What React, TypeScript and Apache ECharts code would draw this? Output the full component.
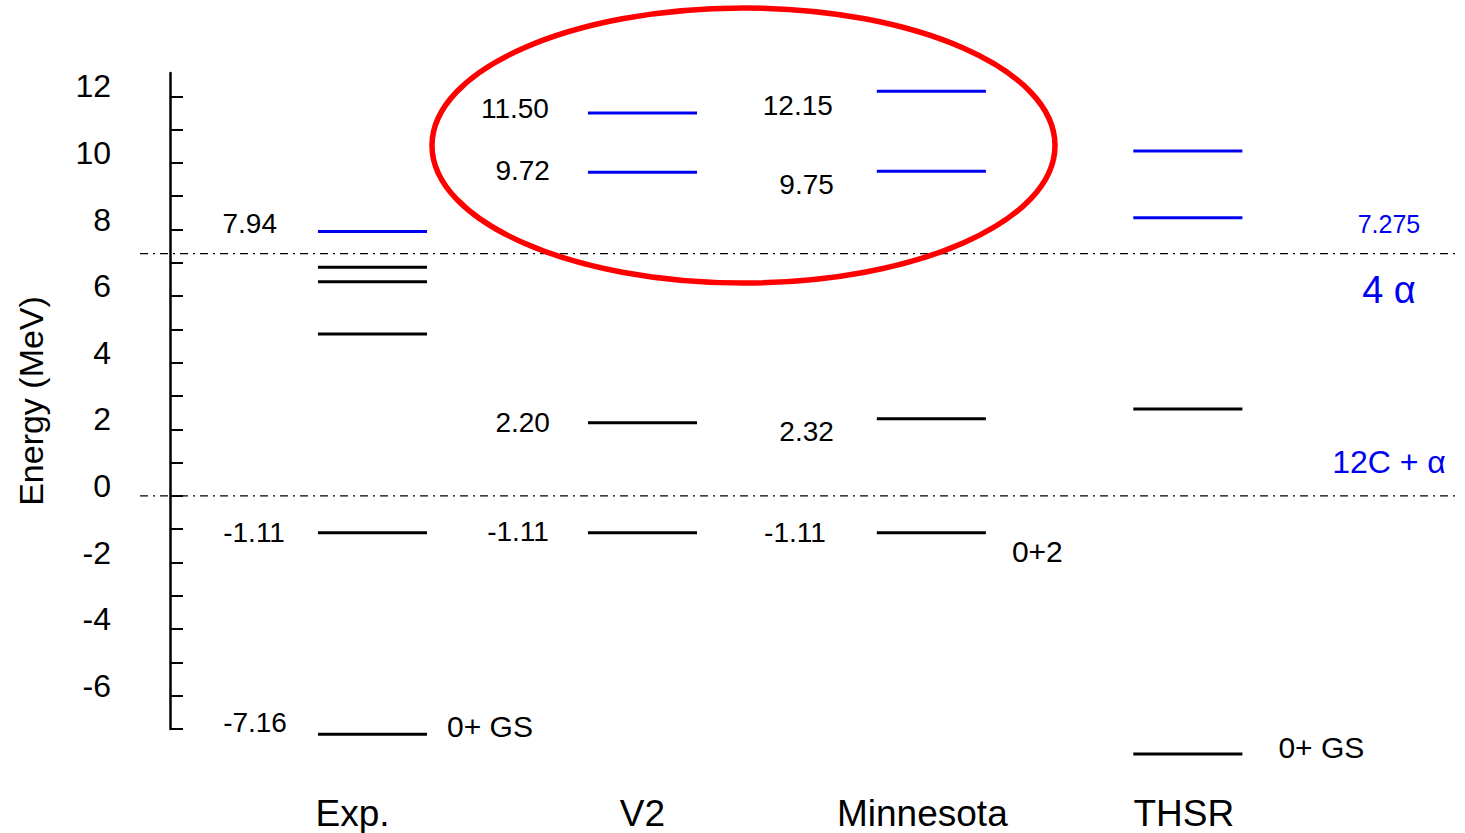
import React, { useEffect, useRef } from 'react';
import * as echarts from 'echarts';

// ---------------- data ----------------
const columns = ['Exp.', 'V2', 'Minnesota', 'THSR'];

const expLevels = [7.94, 6.87, 6.43, 4.86, -1.11, -7.16];
const v2Levels = [11.5, 9.72, 2.2, -1.11];
const minnesotaLevels = [12.15, 9.75, 2.32, -1.11];
const thsrLevels = [10.36, 8.35, 2.61, -7.75];

const expLabels = ['7.94', '', '', '', '-1.11', '-7.16'];
const v2Labels = ['11.50', '9.72', '2.20', '-1.11'];
const minnesotaLabels = ['12.15', '9.75', '2.32', '-1.11'];
const thsrLabels = ['', '', '', ''];

const stateNames = ['0+ GS', '0+2', '0+ GS'];
const stateColumns = [0, 2, 3];
const stateLevels = [-7.16, -1.11, -7.75];

const thresholds = [7.275, 0];
const thresholdNames = ['4 α', '12C + α'];
const thresholdValueText = ['7.275', ''];

const yTicks = [-7, -6, -5, -4, -3, -2, -1, 0, 1, 2, 3, 4, 5, 6, 7, 8, 9, 10, 11, 12];
const yTickLabels = [-6, -4, -2, 0, 2, 4, 6, 8, 10, 12];

// ---------------- layout ----------------
const FONT = '"Liberation Sans", Arial, Helvetica, sans-serif';
const BLUE = '#0000f0';
const columnPos = [0.75, 1.75, 2.82, 3.77];
const HALF = 0.202;
const X_MAX = 4.778;
const X_LINE_START = -0.111;
const X_RIGHT_TEXT = 4.515;
const labelDy = [[-8, 0, 0, 0, 0, -12], [-4, -2, 0, -1], [14, 13, 13, 0], [0, 0, 0, 0]];
const labelGap = [[41, 0, 0, 0, 33, 31], [39, 38, 38, 39], [44, 43, 43, 51], [40, 40, 40, 40]];
const stateDx = [20, 26, 36];
const stateDy = [-8, 19, -6];
const categoryDx = [-20, 0, -9, -4];
const categoryDy = 84;
const thresholdNameDy = [36, -34];
const thresholdValueDy = [-30, 0];

const allLevels = [expLevels, v2Levels, minnesotaLevels, thsrLevels];
const allLabels = [expLabels, v2Labels, minnesotaLabels, thsrLabels];

type Row = { col: number; e: number; label: string; dy: number; gap: number };
const levelRows: Row[] = [];
allLevels.forEach((lv, ci) =>
  lv.forEach((e, li) =>
    levelRows.push({ col: ci, e, label: allLabels[ci][li], dy: labelDy[ci][li], gap: labelGap[ci][li] })
  )
);

const Y_MIN = -7;
const Y_MAX = 12.7;

const option: any = {
  animation: false,
  grid: { left: 170, right: 5, top: 73, bottom: 104, containLabel: false, outerBoundsMode: 'none' },
  xAxis: { type: 'value', min: 0, max: X_MAX, show: false },
  yAxis: {
    type: 'value',
    min: Y_MIN,
    max: Y_MAX,
    name: 'Energy (MeV)',
    nameLocation: 'middle',
    nameGap: 122,
    nameRotate: 90,
    nameTextStyle: { fontSize: 34, fontFamily: FONT, color: '#000' },
    axisLine: { show: true, lineStyle: { color: '#000', width: 2.5 } },
    axisTick: { show: true, inside: true, length: 13, lineStyle: { color: '#000', width: 2 }, customValues: yTicks },
    axisLabel: {
      customValues: yTickLabels,
      fontSize: 32,
      fontFamily: FONT,
      color: '#000',
      margin: 59,
      verticalAlign: 'bottom',
      lineHeight: 20,
    },
    splitLine: { show: false },
  },
  graphic: [
    {
      type: 'ellipse',
      shape: { cx: 743.5, cy: 145.5, rx: 311.5, ry: 137.5 },
      style: { fill: 'none', stroke: '#ff0000', lineWidth: 5.5 },
      z: 100,
      silent: true,
    },
  ],
  series: [
    {
      type: 'custom',
      name: 'thresholds',
      clip: false,
      silent: true,
      data: thresholds.map((t) => [0, t]),
      renderItem: (params: any, api: any) => {
        const i = params.dataIndex;
        const e = api.value(1);
        const a = api.coord([X_LINE_START, e]);
        const b = api.coord([X_MAX, e]);
        const c = api.coord([X_RIGHT_TEXT, e]);
        const children: any[] = [
          {
            type: 'line',
            shape: { x1: a[0], y1: a[1], x2: b[0], y2: b[1] },
            style: { stroke: '#000', lineWidth: 1.3, lineDash: [8, 5, 2, 5] },
          },
          {
            type: 'text',
            style: {
              text: thresholdNames[i],
              x: c[0],
              y: c[1] + thresholdNameDy[i],
              align: 'center',
              verticalAlign: 'middle',
              fontSize: i === 0 ? 38 : 32,
              fontFamily: FONT,
              fill: BLUE,
            },
          },
        ];
        if (thresholdValueText[i]) {
          children.push({
            type: 'text',
            style: {
              text: thresholdValueText[i],
              x: c[0],
              y: c[1] + thresholdValueDy[i],
              align: 'center',
              verticalAlign: 'middle',
              fontSize: 25,
              fontFamily: FONT,
              fill: BLUE,
            },
          });
        }
        return { type: 'group', children };
      },
    },
    {
      type: 'custom',
      name: 'levels',
      clip: false,
      silent: true,
      data: levelRows.map((r) => [columnPos[r.col], r.e]),
      renderItem: (params: any, api: any) => {
        const r = levelRows[params.dataIndex];
        const x = api.value(0);
        const e = api.value(1);
        const a = api.coord([x - HALF, e]);
        const b = api.coord([x + HALF, e]);
        const color = e > thresholds[0] ? BLUE : '#000';
        const children: any[] = [
          {
            type: 'line',
            shape: { x1: a[0], y1: a[1], x2: b[0], y2: b[1] },
            style: { stroke: color, lineWidth: 3 },
          },
        ];
        if (r.label) {
          children.push({
            type: 'text',
            style: {
              text: r.label,
              x: a[0] - r.gap,
              y: a[1] + r.dy,
              align: 'right',
              verticalAlign: 'middle',
              fontSize: 28,
              fontFamily: FONT,
              fill: '#000',
            },
          });
        }
        return { type: 'group', children };
      },
    },
    {
      type: 'custom',
      name: 'states',
      clip: false,
      silent: true,
      data: stateLevels.map((e, i) => [columnPos[stateColumns[i]], e]),
      renderItem: (params: any, api: any) => {
        const i = params.dataIndex;
        const b = api.coord([api.value(0) + HALF, api.value(1)]);
        return {
          type: 'text',
          style: {
            text: stateNames[i],
            x: b[0] + stateDx[i],
            y: b[1] + stateDy[i],
            align: 'left',
            verticalAlign: 'middle',
            fontSize: 30,
            fontFamily: FONT,
            fill: '#000',
          },
        };
      },
    },
    {
      type: 'custom',
      name: 'categories',
      clip: false,
      silent: true,
      data: columns.map((_, i) => [columnPos[i], Y_MIN]),
      renderItem: (params: any, api: any) => {
        const i = params.dataIndex;
        const p = api.coord([api.value(0), api.value(1)]);
        return {
          type: 'text',
          style: {
            text: columns[i],
            x: p[0] + categoryDx[i],
            y: p[1] + categoryDy,
            align: 'center',
            verticalAlign: 'middle',
            fontSize: 37,
            fontFamily: FONT,
            fill: '#000',
          },
        };
      },
    },
  ],
};

export default function App() {
  const ref = useRef<HTMLDivElement>(null);
  useEffect(() => {
    document.body.style.margin = '0';
    const chart = echarts.init(ref.current as HTMLDivElement, null, { renderer: 'svg' });
    chart.setOption(option);
    return () => chart.dispose();
  }, []);
  return <div ref={ref} style={{ width: 1465, height: 833 }} />;
}
